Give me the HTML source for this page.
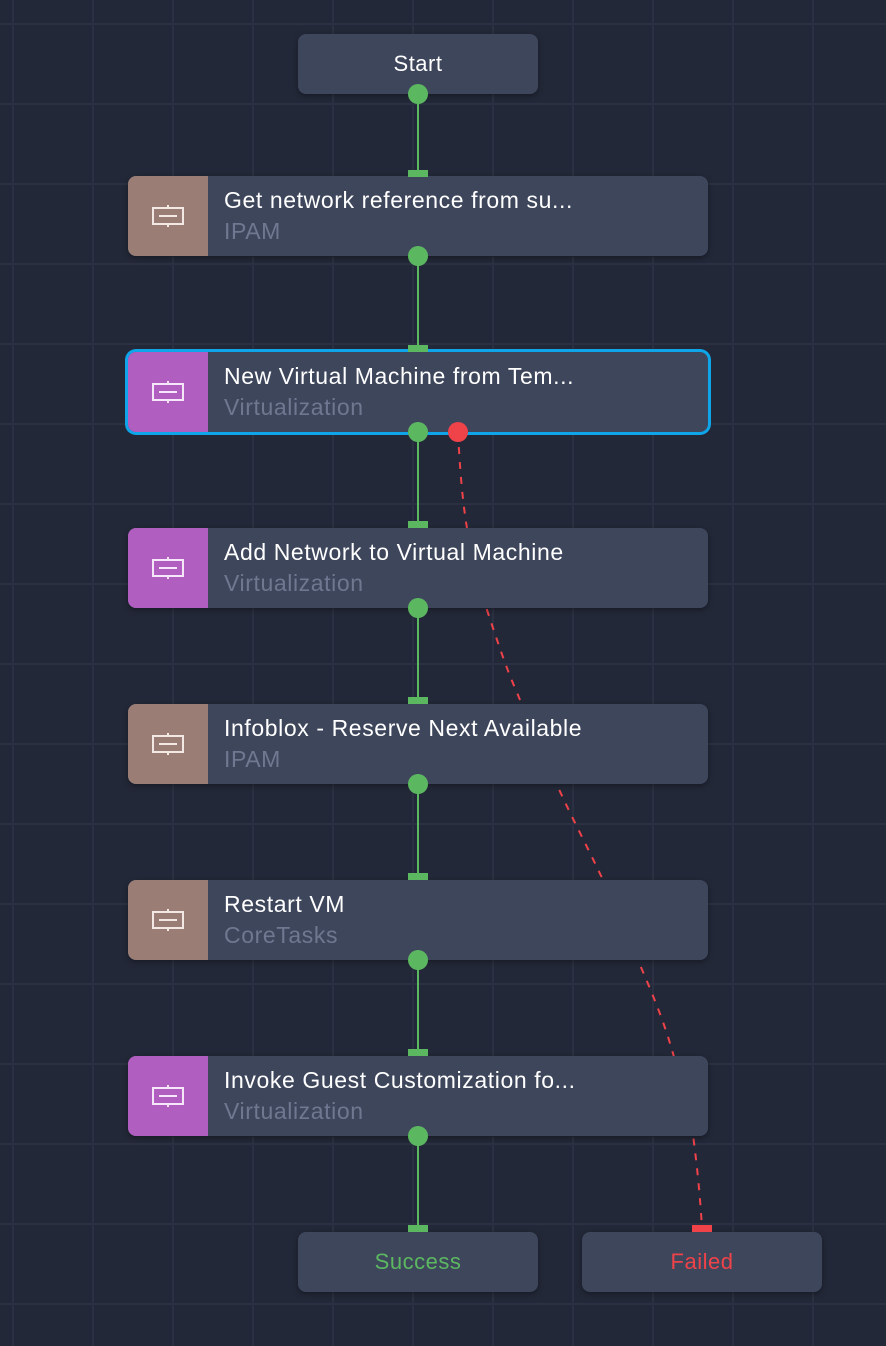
<!DOCTYPE html>
<html><head><meta charset="utf-8"><style>
body{margin:0;width:886px;height:1346px;overflow:hidden;background:#232838;font-family:"Liberation Sans",sans-serif;}
.g{position:absolute;inset:0;background-image:linear-gradient(to right,#2b3142 2px,transparent 2px),linear-gradient(to bottom,#2b3142 2px,transparent 2px);background-size:80px 80px;background-position:12px 23px;}
.n{position:absolute;background:#3e465c;border-radius:8px;box-shadow:0 2px 6px rgba(0,0,0,.35);}
.t{position:absolute;left:128px;width:580px;height:80px;overflow:hidden}
.ic{position:absolute;left:0;top:0;width:80px;height:80px;display:flex;align-items:center;justify-content:center}
.tt{position:absolute;left:96px;top:11px;color:#fff;font-size:23px;letter-spacing:0.6px;white-space:nowrap}
.st{position:absolute;left:96px;top:42px;color:#6f7890;font-size:23px;letter-spacing:0.6px}
.c{color:#fff;font-size:22px;letter-spacing:0.5px;display:flex;align-items:center;justify-content:center}
</style></head><body>
<div class="g"></div>
<svg width="886" height="1346" style="position:absolute;left:0;top:0">
<g stroke="#5cb860" stroke-width="2">
<line x1="418" y1="94" x2="418" y2="172"/><line x1="418" y1="256" x2="418" y2="348"/><line x1="418" y1="432" x2="418" y2="524"/><line x1="418" y1="608" x2="418" y2="700"/><line x1="418" y1="784" x2="418" y2="876"/><line x1="418" y1="960" x2="418" y2="1052"/><line x1="418" y1="1136" x2="418" y2="1228"/>
</g>
<path d="M458 432 C460 470 462 495 466 522 C472 560 478 585 487 610 C497 640 506 668 518 695 C530 725 543 755 557 785 C572 818 588 848 603 880 C617 910 628 937 640 965 C653 995 664 1022 672 1050 C682 1085 689 1108 693 1135 C697 1165 700 1195 702 1228" fill="none" stroke="#ef4249" stroke-width="2" stroke-dasharray="7 8"/>
</svg>
<div class="n c" style="left:298px;top:34px;width:240px;height:60px">Start</div>

<div class="n t" style="top:176px"><div class="ic" style="background:#9a7e75"><svg width="34" height="24"><rect x="2" y="4" width="30" height="16" fill="none" stroke="#f2e8e4" stroke-width="2"/><line x1="8" y1="12" x2="26" y2="12" stroke="#f2e8e4" stroke-width="2"/><line x1="17" y1="1" x2="17" y2="4" stroke="#f2e8e4" stroke-width="2"/><line x1="17" y1="20" x2="17" y2="23" stroke="#f2e8e4" stroke-width="2"/></svg></div><div class="tt">Get network reference from su...</div><div class="st">IPAM</div></div>

<div class="n t" style="top:352px;box-shadow:0 0 0 3px #0ea5e9"><div class="ic" style="background:#b05fc0"><svg width="34" height="24"><rect x="2" y="4" width="30" height="16" fill="none" stroke="#f6e6fa" stroke-width="2"/><line x1="8" y1="12" x2="26" y2="12" stroke="#f6e6fa" stroke-width="2"/><line x1="17" y1="1" x2="17" y2="4" stroke="#f6e6fa" stroke-width="2"/><line x1="17" y1="20" x2="17" y2="23" stroke="#f6e6fa" stroke-width="2"/></svg></div><div class="tt">New Virtual Machine from Tem...</div><div class="st">Virtualization</div></div>

<div class="n t" style="top:528px"><div class="ic" style="background:#b05fc0"><svg width="34" height="24"><rect x="2" y="4" width="30" height="16" fill="none" stroke="#f6e6fa" stroke-width="2"/><line x1="8" y1="12" x2="26" y2="12" stroke="#f6e6fa" stroke-width="2"/><line x1="17" y1="1" x2="17" y2="4" stroke="#f6e6fa" stroke-width="2"/><line x1="17" y1="20" x2="17" y2="23" stroke="#f6e6fa" stroke-width="2"/></svg></div><div class="tt">Add Network to Virtual Machine</div><div class="st">Virtualization</div></div>

<div class="n t" style="top:704px"><div class="ic" style="background:#9a7e75"><svg width="34" height="24"><rect x="2" y="4" width="30" height="16" fill="none" stroke="#f2e8e4" stroke-width="2"/><line x1="8" y1="12" x2="26" y2="12" stroke="#f2e8e4" stroke-width="2"/><line x1="17" y1="1" x2="17" y2="4" stroke="#f2e8e4" stroke-width="2"/><line x1="17" y1="20" x2="17" y2="23" stroke="#f2e8e4" stroke-width="2"/></svg></div><div class="tt">Infoblox - Reserve Next Available</div><div class="st">IPAM</div></div>

<div class="n t" style="top:880px"><div class="ic" style="background:#9a7e75"><svg width="34" height="24"><rect x="2" y="4" width="30" height="16" fill="none" stroke="#f2e8e4" stroke-width="2"/><line x1="8" y1="12" x2="26" y2="12" stroke="#f2e8e4" stroke-width="2"/><line x1="17" y1="1" x2="17" y2="4" stroke="#f2e8e4" stroke-width="2"/><line x1="17" y1="20" x2="17" y2="23" stroke="#f2e8e4" stroke-width="2"/></svg></div><div class="tt">Restart VM</div><div class="st">CoreTasks</div></div>

<div class="n t" style="top:1056px"><div class="ic" style="background:#b05fc0"><svg width="34" height="24"><rect x="2" y="4" width="30" height="16" fill="none" stroke="#f6e6fa" stroke-width="2"/><line x1="8" y1="12" x2="26" y2="12" stroke="#f6e6fa" stroke-width="2"/><line x1="17" y1="1" x2="17" y2="4" stroke="#f6e6fa" stroke-width="2"/><line x1="17" y1="20" x2="17" y2="23" stroke="#f6e6fa" stroke-width="2"/></svg></div><div class="tt">Invoke Guest Customization fo...</div><div class="st">Virtualization</div></div>

<div class="n c" style="left:298px;top:1232px;width:240px;height:60px;color:#5cb860">Success</div>
<div class="n c" style="left:582px;top:1232px;width:240px;height:60px;color:#ef4249">Failed</div>

<svg width="886" height="1346" style="position:absolute;left:0;top:0">
<g fill="#5cb860">
<rect x="408" y="170" width="20" height="7"/><rect x="408" y="345" width="20" height="7"/><rect x="408" y="521" width="20" height="7"/><rect x="408" y="697" width="20" height="7"/><rect x="408" y="873" width="20" height="7"/><rect x="408" y="1049" width="20" height="7"/><rect x="408" y="1225" width="20" height="7"/>
<circle cx="418" cy="94" r="10"/><circle cx="418" cy="256" r="10"/><circle cx="418" cy="432" r="10"/><circle cx="418" cy="608" r="10"/><circle cx="418" cy="784" r="10"/><circle cx="418" cy="960" r="10"/><circle cx="418" cy="1136" r="10"/>
</g>
<circle cx="458" cy="432" r="10" fill="#ef4249"/>
<rect x="692" y="1225" width="20" height="7" fill="#ef4249"/>
</svg>
</body></html>
